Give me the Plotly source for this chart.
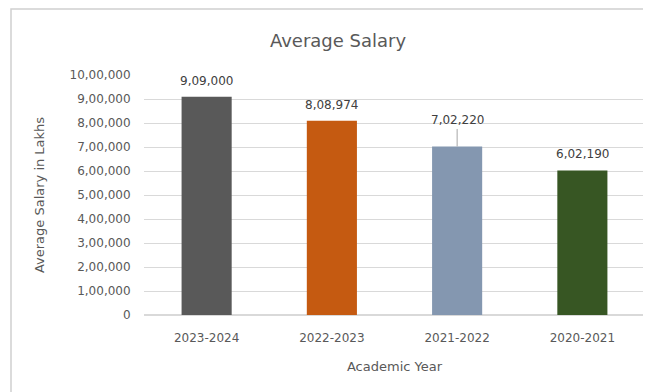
import plotly.graph_objects as go

# data
years = ["2023-2024", "2022-2023", "2021-2022", "2020-2021"]
salary = [909000, 808974, 702220, 602190]
salary_text = ["9,09,000", "8,08,974", "7,02,220", "6,02,190"]
bar_colors = ["#595959", "#C55A11", "#8497B0", "#375623"]
tick_vals = [0, 100000, 200000, 300000, 400000, 500000, 600000, 700000, 800000, 900000, 1000000]
tick_text = ["0", "1,00,000", "2,00,000", "3,00,000", "4,00,000", "5,00,000",
             "6,00,000", "7,00,000", "8,00,000", "9,00,000", "10,00,000"]

font_fam = "DejaVu Sans, sans-serif"

fig = go.Figure(go.Bar(x=years, y=salary, marker_color=bar_colors, marker_line_width=0))

# data labels (third one moved up with a leader line, like the original)
for i, (yr, val, txt) in enumerate(zip(years, salary, salary_text)):
    if i == 2:
        fig.add_annotation(x=yr, y=val, text=txt, showarrow=True, arrowhead=0, arrowwidth=1,
                           arrowcolor="#a6a6a6", ax=0, ay=-26, standoff=0,
                           font=dict(family=font_fam, size=12, color="#404040"))
    else:
        fig.add_annotation(x=yr, y=val, text=txt, showarrow=False, yshift=16,
                           font=dict(family=font_fam, size=12, color="#404040"))

fig.update_layout(
    width=651, height=392,
    paper_bgcolor="white", plot_bgcolor="white",
    margin=dict(l=136, r=14, t=67, b=85),
    bargap=0.6,
    showlegend=False,
    title=dict(text="Average Salary", x=330/651, xanchor="center", y=1-33/392, yanchor="middle",
               font=dict(family=font_fam, size=18, color="#595959")),
    font=dict(family=font_fam, color="#595959"),
)
fig.update_xaxes(title=dict(text="Academic Year", font=dict(size=13, color="#595959"), standoff=17),
                 tickfont=dict(size=12, color="#595959"), showline=False,
                 ticks="outside", ticklen=12, tickcolor="white")
fig.update_yaxes(range=[0, 1000000], tickvals=tick_vals, ticktext=tick_text,
                 tickfont=dict(size=12, color="#595959"),
                 gridcolor="#d9d9d9", gridwidth=1, zeroline=True, zerolinecolor="#d9d9d9",
                 ticks="outside", ticklen=10, tickcolor="white",
                 title=dict(text="Average Salary in Lakhs", font=dict(size=13, color="#595959"), standoff=21))

# chart frame
fig.add_shape(type="rect", xref="paper", yref="paper",
              x0=(3-136)/501, x1=1.1, y0=-0.5, y1=306/240,
              line=dict(color="#d0d0d0", width=1.5))

fig.write_html("out.html")
